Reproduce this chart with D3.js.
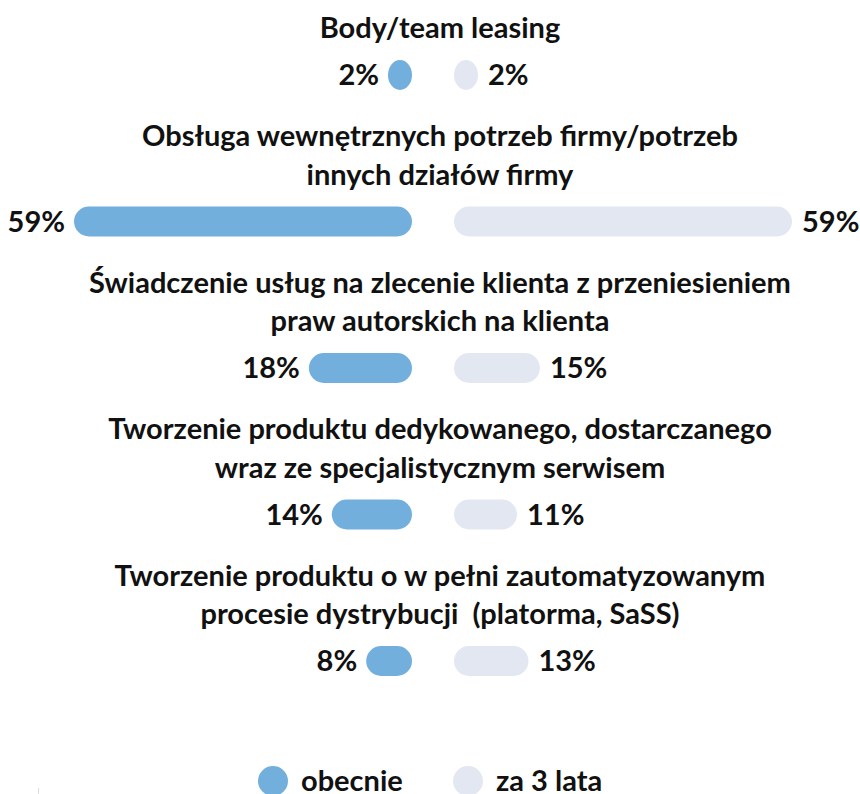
<!DOCTYPE html>
<html><head><meta charset="utf-8">
<script src="https://cdn.jsdelivr.net/npm/d3@7"></script>
<style>
html,body{margin:0;padding:0;background:#fff;}
svg{display:block;font-family:Lato,"Noto Sans",sans-serif;}
</style></head>
<body><svg id="chart" width="860" height="794"></svg>
<script>
const categories = [
  "Body/team leasing",
  "Obsługa wewnętrznych potrzeb firmy/potrzeb\ninnych działów firmy",
  "Świadczenie usług na zlecenie klienta z przeniesieniem\npraw autorskich na klienta",
  "Tworzenie produktu dedykowanego, dostarczanego\nwraz ze specjalistycznym serwisem",
  "Tworzenie produktu o w pełni zautomatyzowanym\nprocesie dystrybucji  (platorma, SaSS)"
];
const obecnie = [2, 59, 18, 14, 8];
const za3lata = [2, 59, 15, 11, 13];
const seriesNames = ["obecnie", "za 3 lata"];
const colors = ["#73afdd", "#e3e7f1"];

const svg = d3.select("#chart");
const FS = 29;
const leftEnd = 412, rightStart = 454, titleX = 440;
const barH = 30, lineH = 38.5, titleToBar = 47, barToNext = 61;
const x = d3.scaleLinear().domain([0, 59]).range([0, 338]);
const minW = 24;

let y = 28;
categories.forEach((cat, i) => {
  const lines = cat.split("\n");
  const g = svg.append("g");
  const t = g.append("text")
    .attr("text-anchor", "middle")
    .attr("font-weight", 700)
    .attr("font-size", FS)
    .attr("fill", "#111");
  lines.forEach((ln, j) => {
    t.append("tspan").attr("x", titleX).attr("y", y + j * lineH)
      .attr("dy", "0.35em").attr("xml:space", "preserve").text(ln);
  });
  const barY = y + (lines.length - 1) * lineH + titleToBar;
  const wl = Math.max(x(obecnie[i]), minW);
  const wr = Math.max(x(za3lata[i]), minW);
  g.append("rect")
    .attr("x", leftEnd - wl).attr("y", barY - barH / 2)
    .attr("width", wl).attr("height", barH)
    .attr("rx", Math.min(wl / 2, barH / 2)).attr("ry", barH / 2)
    .attr("fill", colors[0]);
  g.append("rect")
    .attr("x", rightStart).attr("y", barY - barH / 2)
    .attr("width", wr).attr("height", barH)
    .attr("rx", Math.min(wr / 2, barH / 2)).attr("ry", barH / 2)
    .attr("fill", colors[1]);
  g.append("text")
    .attr("x", leftEnd - wl - 9).attr("y", barY).attr("dy", "0.35em")
    .attr("text-anchor", "end").attr("font-weight", 700).attr("font-size", FS)
    .attr("fill", "#111").text(obecnie[i] + "%");
  g.append("text")
    .attr("x", rightStart + wr + 10).attr("y", barY).attr("dy", "0.35em")
    .attr("text-anchor", "start").attr("font-weight", 700).attr("font-size", FS)
    .attr("fill", "#111").text(za3lata[i] + "%");
  y = barY + barToNext;
});

// legend
const legendY = 781;
const legendItems = [{x: 273, tx: 301}, {x: 468, tx: 496}];
seriesNames.forEach((name, i) => {
  svg.append("ellipse").attr("cx", legendItems[i].x).attr("cy", legendY)
    .attr("rx", 15).attr("ry", 15).attr("fill", colors[i]);
  svg.append("text").attr("x", legendItems[i].tx).attr("y", legendY)
    .attr("dy", "0.35em").attr("font-weight", 700).attr("font-size", FS)
    .attr("fill", "#111").text(name);
});
svg.append("line").attr("x1", 38.5).attr("x2", 38.5).attr("y1", 788).attr("y2", 794)
  .attr("stroke", "#ddd").attr("stroke-width", 1);
</script></body></html>
